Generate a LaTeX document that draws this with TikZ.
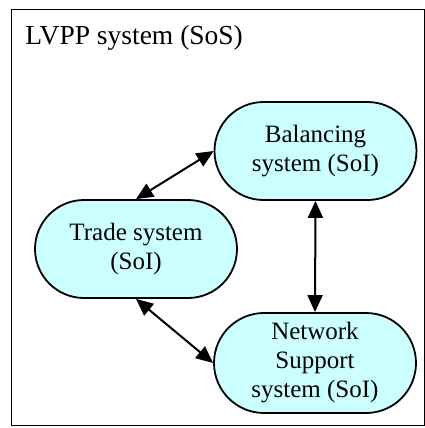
\documentclass[tikz,border=0pt]{standalone}
\usepackage{fontspec}
\setmainfont{Liberation Serif}
\usetikzlibrary{shapes.misc,arrows.meta}
\definecolor{soifill}{RGB}{204,255,255}

\begin{document}
\begin{tikzpicture}[x=1pt, y=-1pt, thick,
    soi/.style={draw, rounded rectangle, fill=soifill, line width=1.8pt,
      minimum width=206pt, minimum height=98pt, align=center, inner sep=2pt,
      font=\fontsize{25}{29}\selectfont},
    link/.style={line width=2pt, {Triangle[length=17pt,width=15pt]}-{Triangle[length=17pt,width=15pt]}}]
      \useasboundingbox (0,0) rectangle (425,428);
      \node[draw, line width=1.4pt, anchor=north west, minimum width=413pt,
        minimum height=416pt, inner sep=0pt](sos) at (11,9) {};
      \node[anchor=base west, inner sep=0pt, font=\fontsize{27.5}{32}\selectfont](title) at (25,45) {LVPP system (SoS)};

      \node[soi](bal) at (315.5,151) {Balancing\\system (SoI)};
      \node[soi](trade) at (136,249) {Trade system\\(SoI)};
      \node[soi, minimum height=100pt](net) at (315,363) {Network\\Support\\system (SoI)};

      \path[link]
      (trade.north) edge (bal.west)
      (bal.south) edge (net.north)
      (trade.south) edge (net.west);
\end{tikzpicture}
\end{document}
